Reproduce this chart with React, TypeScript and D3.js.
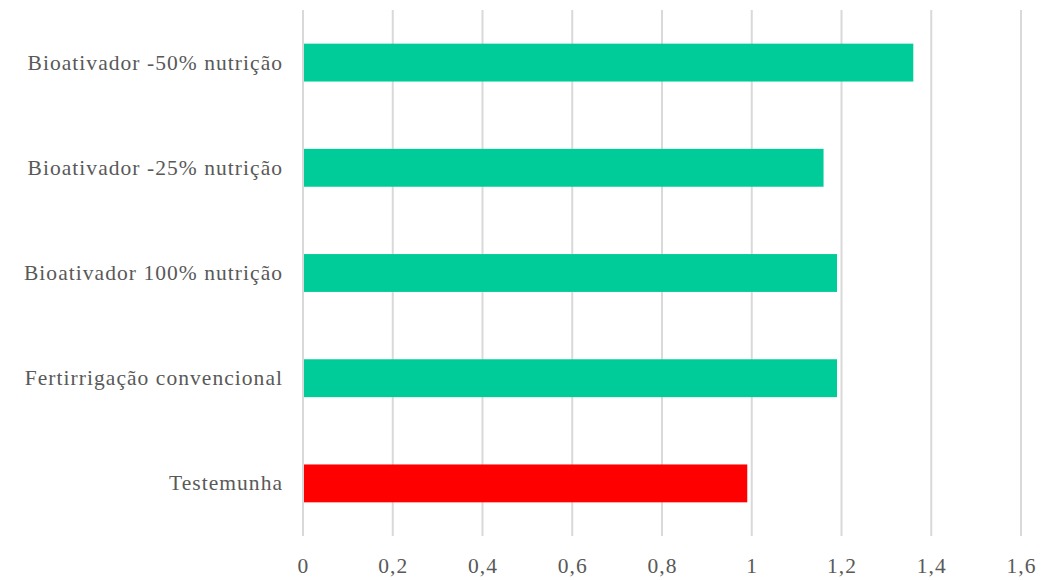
import React from "react";
import * as d3 from "d3";

const categories = [
  "Bioativador -50% nutrição",
  "Bioativador -25% nutrição",
  "Bioativador 100% nutrição",
  "Fertirrigação convencional",
  "Testemunha",
];
const values = [1.36, 1.16, 1.19, 1.19, 0.99];
const barColors = ["#00cc99", "#00cc99", "#00cc99", "#00cc99", "#ff0000"];
const xTicks = [0, 0.2, 0.4, 0.6, 0.8, 1, 1.2, 1.4, 1.6];
const xTickLabels = ["0", "0,2", "0,4", "0,6", "0,8", "1", "1,2", "1,4", "1,6"];

const W = 1059;
const H = 580;
const left = 303;
const right = 1021;
const top = 10;
const bottom = 536;
const font = "Liberation Serif";
const fontSize = 21.5;
const spacing = 1.05;
const textColor = "#595959";

export default function App() {
  const x = d3.scaleLinear().domain([0, 1.6]).range([left, right]);
  const y = d3
    .scaleBand<string>()
    .domain(categories)
    .range([top, bottom])
    .paddingInner(0.64)
    .paddingOuter(0.32);

  return (
    <svg
      width={W}
      height={H}
      style={{ position: "absolute", left: 0, top: 0, background: "#fff" }}
    >
      {xTicks.map((t, i) => (
        <g key={i}>
          <line
            x1={x(t)}
            x2={x(t)}
            y1={top}
            y2={bottom}
            stroke="#d9d9d9"
            strokeWidth={2}
          />
          <text
            x={x(t) + spacing / 2}
            y={573}
            textAnchor="middle"
            fontFamily={font}
            fontSize={fontSize}
            letterSpacing={spacing}
            fill={textColor}
          >
            {xTickLabels[i]}
          </text>
        </g>
      ))}
      {categories.map((c, i) => (
        <g key={c}>
          <rect
            x={x(0) + 1}
            y={y(c)}
            width={x(values[i]) - x(0) - 1}
            height={y.bandwidth()}
            fill={barColors[i]}
          />
          <text
            x={282 + spacing}
            y={(y(c) ?? 0) + y.bandwidth() / 2 + 7}
            textAnchor="end"
            fontFamily={font}
            fontSize={fontSize}
            letterSpacing={spacing}
            fill={textColor}
          >
            {c}
          </text>
        </g>
      ))}
    </svg>
  );
}
